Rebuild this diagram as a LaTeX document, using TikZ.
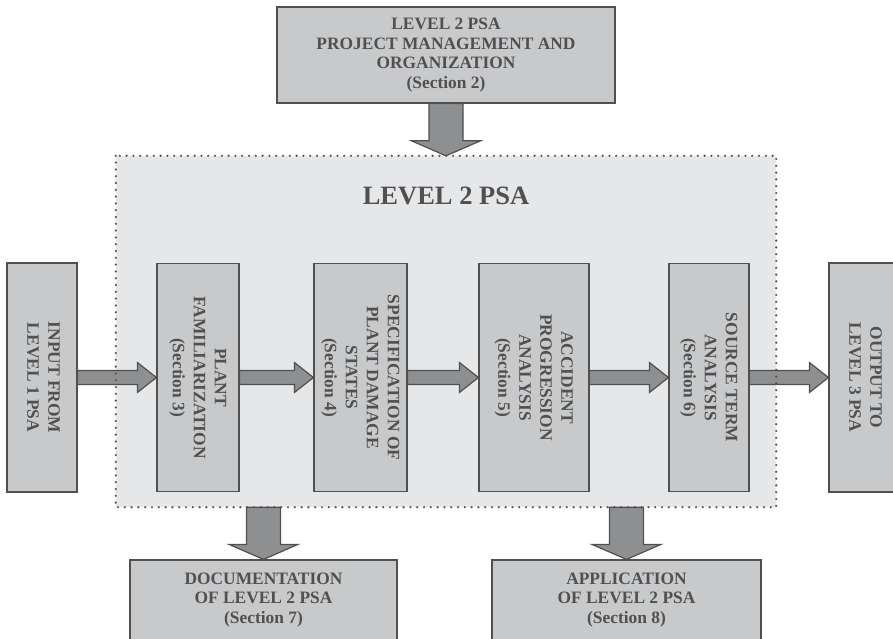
\documentclass[tikz,border=0pt]{standalone}
\usepackage{graphicx}
\usepackage{fontspec}
\setmainfont{Liberation Serif}
\usetikzlibrary{calc,positioning}
\definecolor{boxgray}{HTML}{C8C9CB}
\definecolor{framegray}{HTML}{E6E7E9}
\definecolor{arrgray}{HTML}{8E8F91}
\definecolor{inkgray}{HTML}{505050}
\tikzset{blk/.style={draw=inkgray,fill=boxgray,line width=1.2pt,inner sep=0pt,align=center,text=inkgray,font=\fontsize{17.4}{19.7}\selectfont\bfseries}}
\tikzset{framebox/.style={fill=framegray,inner sep=0pt}}
\tikzset{dotframe/.style={draw=inkgray,line width=2.4pt,dash pattern=on 0pt off 6.8pt,line cap=round}}
\tikzset{titletext/.style={text=inkgray,font=\fontsize{26.5}{30}\selectfont\bfseries}}
\tikzset{fatarr/.style={draw=inkgray,fill=arrgray,line width=1.2pt,line join=miter}}
\newcommand{\vtext}[1]{\rotatebox{-90}{\fontsize{17.4}{21}\selectfont\begin{tabular}{@{}c@{}}#1\end{tabular}}}
% flat arrow, from #1 to the tip #2
\newcommand{\harr}[2]{\draw[fatarr] ($(#1)+(0,-7)$) -- ($(#2)+(-19,-7)$) -- ($(#2)+(-19,-15)$) -- (#2)
  -- ($(#2)+(-19,15)$) -- ($(#2)+(-19,7)$) -- ($(#1)+(0,7)$) -- cycle;}
\newcommand{\varr}[2]{\draw[fatarr] ($(#1)+(-17,0)$) -- ($(#2)+(-17,-15)$) -- ($(#2)+(-34.5,-15)$) -- (#2)
  -- ($(#2)+(34.5,-15)$) -- ($(#2)+(17,-15)$) -- ($(#1)+(17,0)$) -- cycle;}

\begin{document}
\begin{tikzpicture}[x=1pt,y=-1pt]
\useasboundingbox (0,0) rectangle (893,639);

\node[framebox,minimum width=660,minimum height=351] (frm) at (446,331.5) {};
\node[titletext] (ttl) at (446,196) {LEVEL 2 PSA};

\node[blk,minimum width=338,minimum height=96] (pm) at (446,55) {LEVEL 2 PSA\\PROJECT MANAGEMENT AND\\ORGANIZATION\\(Section 2)};

\node[blk,minimum width=70,minimum height=229] (inp) at (42,377.5) {\vtext{INPUT FROM\\LEVEL 1 PSA}};
\node[blk,minimum width=82,minimum height=228] (pf) at (198,377.5) {\vtext{PLANT\\FAMILIARIZATION\\(Section 3)}};
\node[blk,minimum width=93,minimum height=228] (pds) at (360.5,377.5) {\vtext{SPECIFICATION OF\\PLANT DAMAGE\\STATES\\(Section 4)}};
\node[blk,minimum width=110,minimum height=228] (apa) at (534,377.5) {\vtext{ACCIDENT\\PROGRESSION\\ANALYSIS\\(Section 5)}};
\node[blk,minimum width=80,minimum height=228] (sta) at (709,377.5) {\vtext{SOURCE TERM\\ANALYSIS\\(Section 6)}};
\node[blk,minimum width=70,minimum height=229] (out) at (864,377.5) {\vtext{OUTPUT TO\\LEVEL 3 PSA}};

\node[blk,minimum width=267,minimum height=80] (doc) at (263.5,600) {DOCUMENTATION\\OF LEVEL 2 PSA\\(Section 7)};
\node[blk,minimum width=269,minimum height=80] (app) at (626.5,600) {APPLICATION\\OF LEVEL 2 PSA\\(Section 8)};

\coordinate (dtop) at (doc.north |- frm.south);
\coordinate (atop) at (app.north |- frm.south);

\harr{inp.east}{pf.west}
\harr{pf.east}{pds.west}
\harr{pds.east}{apa.west}
\harr{apa.east}{sta.west}
\harr{sta.east}{out.west}
\varr{pm.south}{frm.north}
\varr{dtop}{doc.north}
\varr{atop}{app.north}

\draw[dotframe] (frm.north west) rectangle (frm.south east);
\end{tikzpicture}
\end{document}
